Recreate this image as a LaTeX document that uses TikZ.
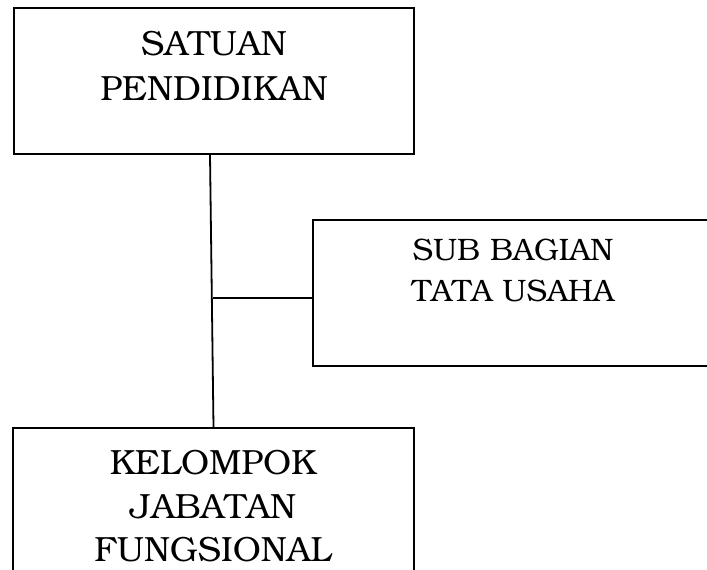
\documentclass[tikz,border=0pt]{standalone}
\usepackage[T1]{fontenc}
\usepackage{bookman}
\usepackage{tikz}
\usetikzlibrary{positioning}

\begin{document}
\begin{tikzpicture}[
    x=1pt, y=-1pt,
    kotak/.style={draw=black, line width=1.8pt, inner sep=0pt},
    teks/.style={align=center, inner sep=0pt, anchor=north},
    garis/.style={draw=black, line width=1.8pt}
]
\useasboundingbox (0,0) rectangle (707,570);
\clip (0,0) rectangle (707,570);

% Kotak (posisi perkiraan)
\node[kotak, minimum width=400pt, minimum height=146pt] (satuan) at (214,81) {};
\node[kotak, minimum width=447pt, minimum height=146pt] (sub) at (536.5,293) {};
\node[kotak, minimum width=401pt, minimum height=146pt] (kelompok) at (213.5,501) {};

% Teks
\node[teks, font=\fontsize{35}{45}\selectfont] (tsatuan) at (214,31) {SATUAN\\PENDIDIKAN};
\node[teks, font=\fontsize{31}{41}\selectfont] (tsub) at (513,239) {SUB BAGIAN\\TATA USAHA};
\node[teks, font=\fontsize{35}{43.5}\selectfont] (tkelompok) at (213,450) {KELOMPOK\\JABATAN\\FUNGSIONAL};

% Garis
\coordinate (cabang) at (213,298);
\draw[garis] ([xshift=-4pt]satuan.south) -- (kelompok.north);
\draw[garis] (cabang) -- (cabang -| sub.west);

\end{tikzpicture}
\end{document}
